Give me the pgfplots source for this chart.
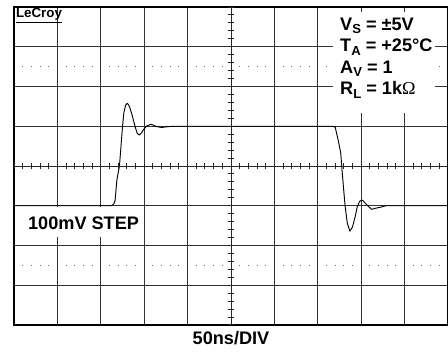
\documentclass[border=0pt]{standalone}
\usepackage{pgfplots}
\pgfplotsset{compat=1.18}
\usepackage{fontspec}
\setmainfont{Liberation Sans}[BoldFont={Liberation Sans Bold}]
\newfontfamily\boldsans{Liberation Sans Bold}
\newfontfamily\omegafont{Liberation Serif}
\newcommand{\sub}[1]{\raisebox{-2.6pt}{\fontsize{9.8}{10}\selectfont #1}}
\newcommand{\bigtext}{\boldsans\fontsize{13.6}{16}\selectfont}
\begin{document}
\begin{tikzpicture}[x=1pt,y=1pt]
\pgfplotsset{scopeaxis/.style={scale only axis, width=325.5pt, height=238.5pt,
  at={(10.5pt,20.25pt)}, anchor=south west, clip=false}}
\begin{axis}[scopeaxis, xmin=0, xmax=10, ymin=-4, ymax=4,
  xtick={0,...,10}, ytick={-4,...,4}, xticklabel=\empty, yticklabel=\empty,
  major tick length=0pt, grid=major,
  grid style={black!80, line width=0.75pt},
  axis line style={black, line width=0.9pt}]
% dotted graticule rows
\draw[black!60, line width=0.75pt, dash pattern=on 0.75pt off 5.76pt on 0.75pt off 5.76pt on 0.75pt off 5.76pt on 0.75pt off 12.27pt, dash phase=26.415pt]
  (axis cs:0,2.5) -- (axis cs:10,2.5);
\draw[black!60, line width=0.75pt, dash pattern=on 0.75pt off 5.76pt on 0.75pt off 5.76pt on 0.75pt off 5.76pt on 0.75pt off 12.27pt, dash phase=26.415pt]
  (axis cs:0,-2.5) -- (axis cs:10,-2.5);
% white label backgrounds
\fill[white] (axis cs:7.35,1.33) rectangle (axis cs:9.70,3.87);
\fill[white] (axis cs:0.03,-1.04) rectangle (axis cs:2.90,-1.79);
% labels
\node[anchor=base west, inner sep=0pt, font=\bigtext] at (axis cs:7.51,3.41) {V\sub{S} = ±5V};
\node[anchor=base west, inner sep=0pt, font=\bigtext] at (axis cs:7.51,2.87) {T\sub{A} = +25°C};
\node[anchor=base west, inner sep=0pt, font=\bigtext] at (axis cs:7.51,2.33) {A\sub{V} = 1};
\node[anchor=base west, inner sep=0pt, font=\bigtext] at (axis cs:7.51,1.79) {R\sub{L} = 1k{\omegafont Ω}};
\node[anchor=base west, inner sep=0pt, font=\bigtext] at (axis cs:0.32,-1.585) {100mV STEP};
\node[anchor=base west, inner sep=0pt, font=\boldsans\fontsize{10}{11}\selectfont] at (axis cs:0.04,3.73) {\underline{LeCroy}};
\node[anchor=base, inner sep=0pt, font=\bigtext] at (axis cs:5,-4.5) {50ns/DIV};
% trace
\addplot[black, line width=0.7pt, line join=round] coordinates {
(0,-1) (2.22,-1) (2.26,-0.99) (2.30,-0.95) (2.33,-0.86) (2.37,-0.35) (2.43,0)
(2.50,0.99) (2.53,1.33) (2.57,1.53) (2.61,1.58) (2.65,1.52) (2.71,1.33) (2.79,0.99)
(2.84,0.82) (2.89,0.78) (2.94,0.84) (2.98,0.91) (3.06,1.01) (3.16,1.05) (3.29,0.99)
(3.40,0.97) (3.55,0.99) (3.70,1) (7.33,1) (7.40,0.98) (7.47,0.65) (7.53,0.32)
(7.55,0) (7.59,-0.52) (7.63,-1.02) (7.68,-1.44) (7.74,-1.64) (7.80,-1.53)
(7.86,-1.28) (7.91,-1.02) (7.97,-0.88) (8.03,-0.86) (8.13,-0.98) (8.24,-1.09)
(8.34,-1.06) (8.43,-1.04) (8.57,-1) (10,-1)
};
\end{axis}
\begin{axis}[scopeaxis, xmin=-5, xmax=5, ymin=-4, ymax=4,
  axis lines=middle, axis line style={-, black!85, line width=0.75pt},
  xtick={-5,...,5}, ytick={-4,...,4}, minor x tick num=4, minor y tick num=4,
  xticklabel=\empty, yticklabel=\empty, tick align=center,
  major tick length=5pt, minor tick length=5pt,
  every tick/.style={black!85, line width=0.75pt}]
\end{axis}
\pgfresetboundingbox
\path (0,0) rectangle (336pt,264pt);
\end{tikzpicture}
\end{document}
